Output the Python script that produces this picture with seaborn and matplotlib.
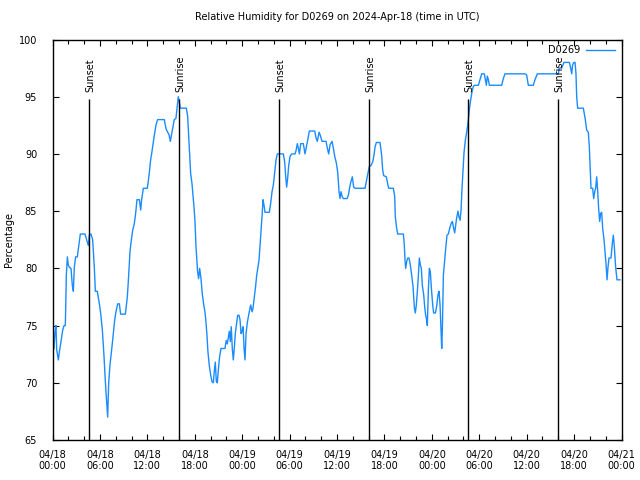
import matplotlib
matplotlib.use("Agg")
import matplotlib.pyplot as plt
import seaborn as sns
import pandas as pd

# ---------------- data ----------------
title = "Relative Humidity for D0269 on 2024-Apr-18 (time in UTC)"
series_name = "D0269"
y_label = "Percentage"

# hours since 2024-04-18 00:00 UTC
hours = [
    0.19, 0.32, 0.44, 0.53, 0.74, 0.87, 1.03, 1.29, 1.46, 1.62, 1.67, 1.75, 1.88, 2.00, 2.13,
    2.34, 2.51, 2.64, 2.76, 2.93, 3.14, 3.31, 3.52, 4.11, 4.41, 4.53, 4.66, 4.87, 5.08, 5.29,
    5.42, 5.67, 5.93, 6.09, 6.31, 6.52, 6.64, 6.77, 6.90, 6.98, 7.11, 7.28, 7.44, 7.61, 7.87,
    8.03, 8.25, 8.46, 8.62, 9.22, 9.47, 9.64, 9.81, 9.98, 10.14, 10.35, 10.52, 10.69, 10.99,
    11.16, 11.28, 11.49, 12.00,
    12.12, 12.29, 12.42, 12.54, 12.71, 12.88, 13.09, 13.30, 14.15, 14.36, 14.57, 14.74, 14.91,
    15.07, 15.29, 15.41, 15.62, 15.79, 15.92, 16.04, 16.17, 16.93, 17.10, 17.23, 17.35, 17.48,
    17.65, 17.77, 17.90, 18.03, 18.15, 18.28, 18.36, 18.49, 18.62, 18.79, 18.95, 19.12, 19.29,
    19.42, 19.54, 19.67, 19.84, 20.01, 20.18, 20.35, 20.47, 20.60, 20.73, 20.85, 21.02, 21.15,
    21.32, 21.82, 21.99, 22.12, 22.24, 22.37, 22.50, 22.62, 22.75, 22.88, 23.00, 23.13, 23.30,
    23.43, 23.60,
    23.73, 23.86, 23.98, 24.11, 24.24, 24.36, 24.49, 24.66, 24.87, 25.08, 25.25, 25.37, 25.54,
    25.71, 25.84, 25.97, 26.13, 26.26, 26.39, 26.51, 26.64, 26.77, 26.89, 27.44, 27.61, 27.78,
    27.95, 28.12, 28.29, 28.45, 29.21, 29.38, 29.51, 29.63, 29.76, 29.89, 30.06, 30.27, 30.69,
    30.82, 30.98, 31.11, 31.24, 31.41, 31.74, 31.95, 32.12, 32.29, 32.50, 33.18, 33.35, 33.51,
    33.73, 33.85, 34.11, 34.61, 34.78, 34.95, 35.12, 35.37, 35.54, 35.71,
    35.92, 36.09, 36.26, 36.38, 36.51, 36.64, 36.80, 37.27, 37.44, 37.61, 37.77, 37.94, 38.11,
    38.28, 39.55, 39.71, 39.88, 40.09, 40.30, 40.52, 40.68, 40.81, 40.98, 41.44, 41.65, 41.78,
    41.91, 42.24, 42.41, 42.54, 43.13, 43.30, 43.38, 43.55, 43.68, 44.40, 44.52, 44.61, 44.69,
    44.82, 44.94, 45.11, 45.28, 45.45, 45.62, 45.79, 45.91, 46.04, 46.17, 46.29, 46.42, 46.55,
    46.67, 46.80, 46.97, 47.10, 47.22, 47.35, 47.43, 47.56, 47.69, 47.81,
    47.94, 48.11, 48.23, 48.45, 48.61, 48.78, 48.91, 49.04, 49.16, 49.25, 49.33, 49.46, 49.58,
    49.75, 49.92, 50.09, 50.26, 50.43, 50.60, 50.76, 50.89, 51.02, 51.14, 51.31, 51.44, 51.57,
    51.69, 51.82, 51.95, 52.07, 52.24, 52.41, 52.54, 52.66, 52.79, 52.91, 53.08, 53.25, 53.42,
    53.89, 54.10, 54.31, 54.64, 54.77, 54.90, 55.02, 55.15, 55.28, 56.84, 57.05, 57.26,
    59.79, 60.00, 60.21, 60.84, 61.06, 61.35, 64.01, 64.13, 64.43, 64.72, 65.40, 65.57, 65.70,
    65.82, 65.99, 66.12, 66.24, 66.33, 66.45, 67.17, 67.30, 67.42, 67.59, 67.80, 67.93, 68.06,
    68.14, 68.35, 68.48, 68.61, 68.73, 68.86, 68.99, 69.11, 69.24, 69.36, 69.49, 69.62, 69.79,
    69.91, 70.04, 70.17, 70.29, 70.42, 70.67, 70.84, 70.97, 71.09, 71.26, 71.43, 71.68, 71.80,
]
rh = [
    73.0, 74.5, 75.0, 72.9, 72.0, 72.7, 73.4, 74.6, 75.0, 75.0, 76.5, 79.4, 81.0, 80.3, 80.1,
    80.0, 78.5, 78.0, 80.1, 81.0, 81.0, 81.9, 83.0, 83.0, 82.3, 82.0, 82.9, 83.0, 82.5, 80.1,
    78.0, 78.0, 76.9, 76.1, 74.6, 72.3, 70.7, 69.2, 67.9, 67.0, 70.0, 71.6, 72.6, 73.7, 75.5,
    76.2, 76.9, 76.9, 76.0, 76.0, 77.5, 79.4, 81.5, 82.5, 83.3, 83.9, 84.8, 86.0, 86.0,
    85.1, 86.0, 87.0, 87.0,
    87.6, 88.6, 89.5, 90.0, 90.8, 91.6, 92.5, 93.0, 93.0, 92.2, 91.9, 91.7, 91.1,
    91.7, 92.5, 93.0, 93.1, 94.2, 95.0, 94.6, 94.0, 94.0, 93.3, 91.6, 90.2, 88.3,
    87.4, 86.4, 85.4, 84.1, 82.0, 80.6, 79.7, 79.1, 80.0, 79.1, 77.8, 76.9, 76.2,
    75.3, 74.2, 72.7, 71.5, 70.7, 70.1, 70.0, 71.0, 71.8, 70.1, 70.0, 71.4, 72.3,
    73.0, 73.0, 73.7, 73.4, 73.9, 74.5, 73.6, 74.9, 73.0, 72.0, 73.0, 74.3, 75.2,
    75.9, 75.9,
    75.5, 74.3, 74.5, 74.9, 73.0, 72.0, 74.3, 75.3, 76.1, 76.8, 76.2, 76.5, 77.5,
    78.5, 79.4, 80.0, 80.7, 82.0, 83.3, 84.5, 86.0, 85.5, 84.9, 84.9, 85.7, 86.7,
    87.3, 88.4, 89.5, 90.0, 90.0, 89.3, 88.0, 87.1, 87.9, 89.0, 89.8, 90.0, 90.0,
    90.3, 90.9, 90.5, 90.0, 90.9, 90.9, 90.0, 90.6, 91.2, 92.0, 92.0, 91.4, 91.1,
    91.9, 91.7, 91.1, 91.1, 90.5, 90.0, 90.8, 91.1, 90.5, 89.8,
    89.2, 88.4, 86.7, 86.1, 86.7, 86.3, 86.1, 86.1, 86.4, 87.1, 87.6, 88.0, 87.1,
    87.0, 87.0, 87.6, 88.2, 88.9, 89.0, 89.3, 89.9, 90.6, 91.0, 91.0, 89.9, 88.6,
    88.1, 88.0, 87.4, 87.0, 87.0, 86.3, 84.5, 83.5, 83.0, 83.0, 82.0, 80.7, 80.0,
    80.6, 80.9, 80.9, 80.3, 79.4, 78.4, 76.6, 76.1, 76.8, 78.0, 79.3, 80.9, 80.3,
    80.0, 78.5, 77.7, 76.6, 75.9, 75.5, 75.0, 78.1, 80.0, 79.7,
    78.3, 76.8, 76.1, 76.1, 76.7, 77.7, 78.0, 76.8, 74.6, 73.0, 74.6, 79.4, 80.4,
    81.7, 82.9, 83.0, 83.5, 83.9, 84.1, 83.5, 83.1, 83.8, 84.4, 85.0, 84.5, 84.2,
    85.0, 87.0, 88.6, 90.1, 91.2, 91.9, 92.5, 93.3, 94.1, 94.7, 95.4, 95.9, 96.0,
    96.0, 96.5, 97.0, 97.0, 96.5, 96.0, 96.8, 96.5, 96.0, 96.0, 96.6, 97.0,
    97.0, 96.9, 96.0, 96.0, 96.5, 97.0, 97.0, 97.5, 97.5, 98.0, 98.0, 97.5, 97.0,
    97.8, 98.0, 98.0, 97.0, 95.0, 94.0, 94.0, 93.5, 93.0, 92.1, 91.9, 90.6, 88.3,
    87.0, 87.0, 86.1, 86.7, 87.0, 88.0, 86.7, 85.2, 84.1, 84.8, 84.9, 83.5, 82.5,
    81.5, 80.4, 79.0, 80.1, 80.9, 80.9, 82.2, 82.9, 81.9, 80.1, 79.0, 79.0, 79.0,
]

sun_event_hours = [4.66, 16.01, 28.63, 40.10, 52.60, 64.00]
sun_event_labels = ["Sunset", "Sunrise", "Sunset", "Sunrise", "Sunset", "Sunrise"]

xtick_hours = [0, 6, 12, 18, 24, 30, 36, 42, 48, 54, 60, 66, 72]
xtick_labels = ["04/18\n00:00", "04/18\n06:00", "04/18\n12:00", "04/18\n18:00",
                "04/19\n00:00", "04/19\n06:00", "04/19\n12:00", "04/19\n18:00",
                "04/20\n00:00", "04/20\n06:00", "04/20\n12:00", "04/20\n18:00",
                "04/21\n00:00"]
yticks = [65, 70, 75, 80, 85, 90, 95, 100]

# ---------------- plot ----------------
plt.rcParams["font.family"] = ["DejaVu Sans"]
plt.rcParams["font.size"] = 7

df = pd.DataFrame({"hours": hours, "rh": rh})

fig = plt.figure(figsize=(6.4, 4.8), dpi=100)
ax = fig.add_axes([52.5 / 640, 1 - 440 / 480, 569 / 640, 400.5 / 480])

sns.lineplot(data=df, x="hours", y="rh", ax=ax, color="#1a8cff", linewidth=1.0,
             label=series_name, estimator=None, sort=False)

for h, lab in zip(sun_event_hours, sun_event_labels):
    ax.vlines(h, 65, 94.8, color="black", linewidth=1.0, zorder=3)
    ax.text(h + 0.15, 95.4, lab, rotation=90, ha="center", va="bottom", fontsize=7)

ax.set_xlim(0, 72)
ax.set_ylim(65, 100)
ax.set_xticks(xtick_hours)
ax.set_xticklabels(xtick_labels)
ax.set_xticks(list(range(0, 73, 2)), minor=True)
ax.set_yticks(yticks)
ax.set_yticklabels([str(v) for v in yticks])

ax.tick_params(axis="both", which="both", direction="in", top=True, right=True,
               width=0.8, colors="black")
ax.tick_params(axis="x", which="major", length=4, pad=7)
ax.tick_params(axis="x", which="minor", length=3)
ax.tick_params(axis="y", which="major", length=4, pad=11)
for s in ax.spines.values():
    s.set_linewidth(1.0)

ax.set_xlabel("")
ax.set_ylabel(y_label, fontsize=7)
ax.yaxis.set_label_coords(-0.068, 0.5)
ax.set_title(title, fontsize=7, pad=14)

leg = ax.legend(loc="upper right", bbox_to_anchor=(0.995, 0.995), frameon=False,
                markerfirst=False, handlelength=3.0, fontsize=7, borderaxespad=0.0,
                handletextpad=0.5)

fig.savefig("out.png", dpi=100)
